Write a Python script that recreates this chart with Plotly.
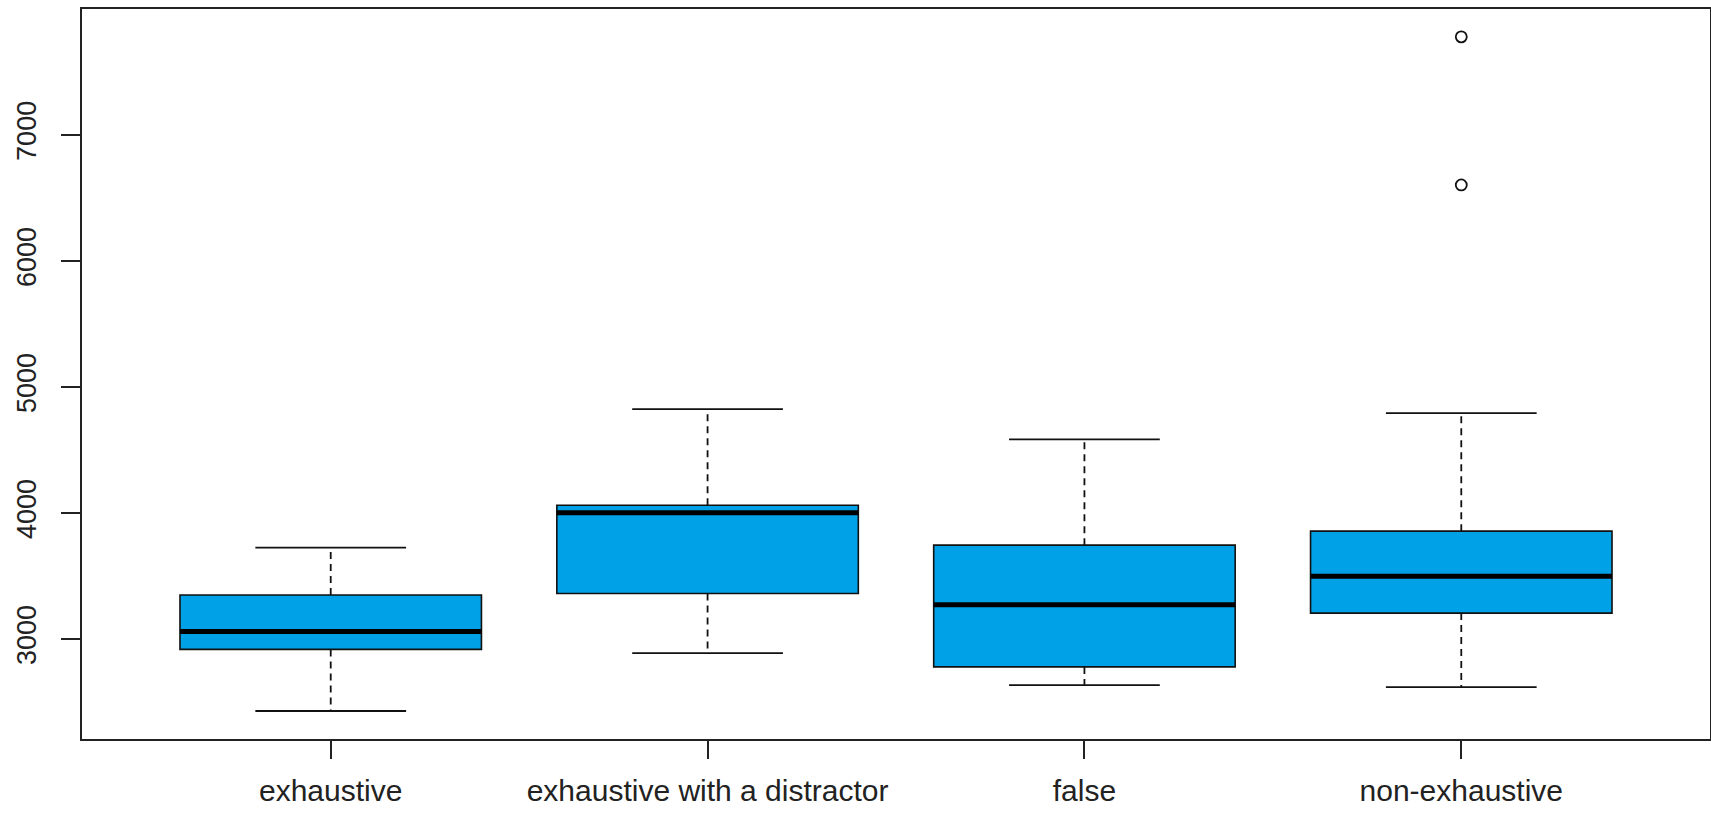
import plotly.graph_objects as go

# Response times per condition (box summary statistics)
categories = ["exhaustive", "exhaustive with a distractor", "false", "non-exhaustive"]
lower_whisker = [2429, 2889, 2635, 2619]
q1 = [2918, 3362, 2779, 3206]
median = [3060, 4002, 3272, 3498]
q3 = [3349, 4062, 3745, 3856]
upper_whisker = [3726, 4824, 4584, 4793]

# Points beyond the whiskers: (category index, value)
outlier_category = [3, 3]
outlier_values = [7778, 6603]

y_ticks = [3000, 4000, 5000, 6000, 7000]

positions = list(range(1, len(categories) + 1))
BOX_HALF = 0.4
CAP_HALF = 0.2
FILL = "#00a1e6"
INK = "#111111"

fig = go.Figure()

# Boxes (quartile range only; whiskers are drawn dashed below)
fig.add_trace(go.Box(
    x=positions, q1=q1, median=median, q3=q3,
    lowerfence=q1, upperfence=q3,
    width=2 * BOX_HALF, whiskerwidth=0,
    fillcolor=FILL, line=dict(color=INK, width=1.6),
    boxpoints=False, showlegend=False, hoverinfo="skip",
))

# Dashed whiskers
wx, wy = [], []
for p, lo, a, b, hi in zip(positions, lower_whisker, q1, q3, upper_whisker):
    wx += [p, p, None, p, p, None]
    wy += [b, hi, None, a, lo, None]
fig.add_trace(go.Scatter(
    x=wx, y=wy, mode="lines",
    line=dict(color=INK, width=1.8, dash="7px,5px"),
    showlegend=False, hoverinfo="skip",
))

# Whisker caps
cx, cy = [], []
for p, lo, hi in zip(positions, lower_whisker, upper_whisker):
    cx += [p - CAP_HALF, p + CAP_HALF, None, p - CAP_HALF, p + CAP_HALF, None]
    cy += [hi, hi, None, lo, lo, None]
fig.add_trace(go.Scatter(
    x=cx, y=cy, mode="lines",
    line=dict(color=INK, width=1.8),
    showlegend=False, hoverinfo="skip",
))

# Heavy median bars
mx, my = [], []
for p, m in zip(positions, median):
    mx += [p - BOX_HALF, p + BOX_HALF, None]
    my += [m, m, None]
fig.add_trace(go.Scatter(
    x=mx, y=my, mode="lines",
    line=dict(color="#000000", width=5),
    showlegend=False, hoverinfo="skip",
))

# Outliers
fig.add_trace(go.Scatter(
    x=[positions[i] for i in outlier_category], y=outlier_values,
    mode="markers",
    marker=dict(symbol="circle-open", size=11, color=INK, line=dict(width=1.8)),
    showlegend=False, hoverinfo="skip",
))

font_family = "Liberation Sans, Arial, sans-serif"

fig.update_layout(
    width=1711, height=813,
    margin=dict(l=82, r=1, t=9, b=74),
    paper_bgcolor="white", plot_bgcolor="white",
    font=dict(family=font_family, color="#222222"),
    showlegend=False,
)

fig.update_xaxes(
    range=[0.34, 4.66], automargin=False,
    tickmode="array", tickvals=positions, ticktext=categories,
    tickfont=dict(size=30, family=font_family, color="#222222"),
    ticks="outside", ticklen=18, tickwidth=2, tickcolor="#222222",
    ticklabelstandoff=6,
    showline=True, linecolor="#222222", linewidth=2, mirror=True,
    showgrid=False, zeroline=False,
)

fig.update_yaxes(
    range=[2207, 7999], automargin=False,
    tickmode="array", tickvals=y_ticks, ticktext=[str(v) for v in y_ticks],
    tickangle=-90,
    tickfont=dict(size=27, family=font_family, color="#222222"),
    ticks="outside", ticklen=19, tickwidth=2, tickcolor="#222222",
    ticklabelstandoff=14,
    showline=True, linecolor="#222222", linewidth=2, mirror=True,
    showgrid=False, zeroline=False,
)

fig.write_html("out.html")
